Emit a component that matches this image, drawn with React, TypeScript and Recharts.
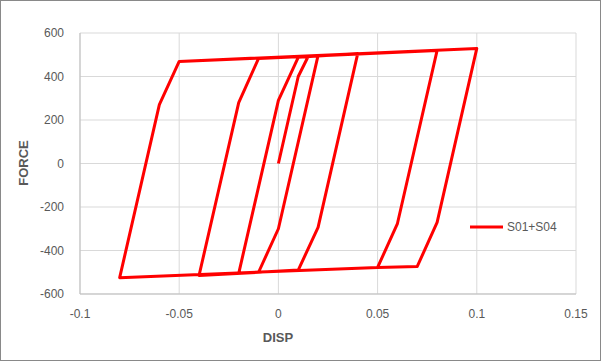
import React from 'react';
import { LineChart, Line, XAxis, YAxis, CartesianGrid, Label } from 'recharts';

// loading path, in test order
const dispValues = [0, 0.01, 0.015, 0.02, 0, -0.01, -0.02, 0, 0.01, 0.04, 0.02, 0.01, -0.04, -0.02, -0.01, 0.08, 0.06, 0.05, -0.08, -0.06, -0.05, 0.1, 0.08, 0.07, 0.05];
const forceValues = [0, 400, 492, 497, -300, -500, -505, 290, 488, 506, -294, -490, -515, 280, 483, 520, -276, -478, -525, 271, 469, 529, -271, -473, -478];

const dispTicks = [-0.1, -0.05, 0, 0.05, 0.1, 0.15];
const forceTicks = [-600, -400, -200, 0, 200, 400, 600];

const seriesName = 'S01+S04';

const data = dispValues.map((d, i) => ({ disp: d, force: forceValues[i] }));

const font = '"Liberation Sans", Arial, sans-serif';
const textColor = '#595959';

export default function App() {
  return (
    <div style={{ position: 'absolute', left: 0, top: 0, width: 601, height: 361, background: '#fff', fontFamily: font }}>
      <LineChart width={601} height={361} data={data} margin={{ top: 33, right: 25, left: 0, bottom: 0 }}>
        <CartesianGrid stroke="#d9d9d9" />
        <XAxis
          dataKey="disp"
          type="number"
          domain={[-0.1, 0.15]}
          ticks={dispTicks}
          height={67}
          tickSize={0}
          tickMargin={15}
          stroke="#bfbfbf"
          tick={{ fontSize: 12, fill: textColor, fontFamily: font }}
        >
          <Label
            content={() => (
              <text x={278} y={342} textAnchor="middle" fontSize={13} fontWeight="bold" fill={textColor} fontFamily={font}>
                DISP
              </text>
            )}
          />
        </XAxis>
        <YAxis
          dataKey="force"
          type="number"
          domain={[-600, 600]}
          ticks={forceTicks}
          width={80}
          tickSize={0}
          tickMargin={16}
          stroke="#bfbfbf"
          tick={{ fontSize: 12, fill: textColor, fontFamily: font }}
        >
          <Label
            content={() => (
              <text
                x={28}
                y={163}
                transform="rotate(-90 28 163)"
                textAnchor="middle"
                fontSize={13}
                fontWeight="bold"
                fill={textColor}
                fontFamily={font}
              >
                FORCE
              </text>
            )}
          />
        </YAxis>
        <Line
          dataKey="force"
          stroke="#ff0000"
          strokeWidth={3}
          strokeLinejoin="round"
          dot={false}
          activeDot={false}
          isAnimationActive={false}
        />
      </LineChart>
      <div
        style={{
          position: 'absolute',
          left: 470,
          top: 219,
          display: 'flex',
          alignItems: 'center',
          fontSize: 12,
          color: textColor,
          fontFamily: font,
        }}
      >
        <svg width={34} height={16}>
          <line x1={0} y1={8} x2={33} y2={8} stroke="#ff0000" strokeWidth={3} />
        </svg>
        <span style={{ marginLeft: 3 }}>{seriesName}</span>
      </div>
      <div
        style={{
          position: 'absolute',
          left: 0,
          top: 0,
          width: 601,
          height: 361,
          boxSizing: 'border-box',
          border: '1px solid #898989',
          pointerEvents: 'none',
        }}
      />
    </div>
  );
}
